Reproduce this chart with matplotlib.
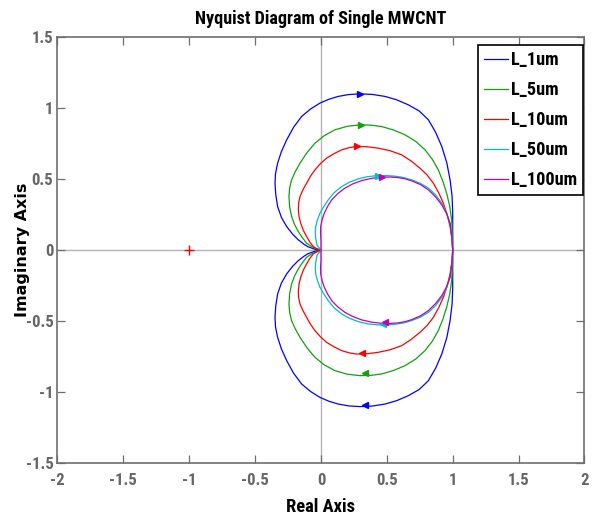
import matplotlib
matplotlib.use("Agg")
import matplotlib.pyplot as plt
from matplotlib import font_manager as fm
from matplotlib.font_manager import FontProperties
import numpy as np

# ---- choose the narrowest bold sans face that is installed ----
entries = fm.fontManager.ttflist
def pick_font():
    keys = ["LiberationSansNarrow-Bold.", "RobotoCondensed-Bold.", "Roboto_Condensed-Bold",
            "DejaVuSansCondensed-Bold."]
    for key in keys:
        for e in entries:
            if key in e.fname.replace(" ", ""):
                return FontProperties(fname=e.fname)
    return FontProperties(family="Liberation Sans", weight="bold")

BASEFP = pick_font()

# ---- data (upper half of each Nyquist contour) ----
labels = ["L_1um", "L_5um", "L_10um", "L_50um", "L_100um"]
colors = ["#0000ff", "#10a010", "#ff0000", "#00bfbf", "#bf00bf"]

blue_x = [1.0, 1.0, 1.0, 0.995, 0.98, 0.955, 0.917, 0.87, 0.815, 0.745, 0.663, 0.575, 0.486, 0.39, 0.296,
          0.21, 0.131, 0.06, -0.008, -0.08, -0.147, -0.208, -0.26, -0.3, -0.329, -0.345, -0.349, -0.343,
          -0.329, -0.3, -0.26, -0.215, -0.172, -0.13, -0.1, -0.05, 0.0]
blue_y = [0.0, 0.13, 0.26, 0.38, 0.495, 0.615, 0.73, 0.83, 0.918, 0.98, 1.023, 1.058, 1.082, 1.096, 1.10,
          1.095, 1.082, 1.062, 1.035, 0.993, 0.941, 0.865, 0.777, 0.695, 0.613, 0.54, 0.472, 0.39,
          0.307, 0.23, 0.166, 0.113, 0.073, 0.043, 0.025, 0.008, 0.0]

green_x = [1.0, 0.998, 0.992, 0.977, 0.954, 0.925, 0.891, 0.845, 0.79, 0.72, 0.638, 0.55, 0.461, 0.38, 0.296,
           0.2, 0.106, 0.025, -0.046, -0.105, -0.159, -0.195, -0.223, -0.238, -0.243, -0.238, -0.223, -0.2,
           -0.172, -0.14, -0.109, -0.06, 0.0]
green_y = [0.0, 0.11, 0.213, 0.31, 0.401, 0.485, 0.565, 0.64, 0.706, 0.765, 0.812, 0.846, 0.87, 0.88, 0.882,
           0.872, 0.847, 0.806, 0.753, 0.688, 0.613, 0.553, 0.495, 0.437, 0.378, 0.305, 0.237, 0.18,
           0.131, 0.087, 0.049, 0.02, 0.0]

red_x = [1.0, 0.993, 0.98, 0.958, 0.929, 0.893, 0.853, 0.805, 0.752, 0.685, 0.613, 0.525, 0.435, 0.35, 0.271,
         0.215, 0.157, 0.1, 0.043, -0.005, -0.046, -0.08, -0.109, -0.137, -0.159, -0.17, -0.172, -0.166,
         -0.154, -0.134, -0.109, -0.085, -0.058, -0.03, 0.0]
red_y = [0.0, 0.085, 0.166, 0.25, 0.331, 0.405, 0.472, 0.53, 0.577, 0.627, 0.671, 0.7, 0.718, 0.728, 0.73,
         0.722, 0.706, 0.68, 0.648, 0.608, 0.565, 0.52, 0.472, 0.425, 0.378, 0.33, 0.284, 0.235,
         0.19, 0.14, 0.096, 0.058, 0.025, 0.01, 0.0]

cyan_x = [1.0, 0.993, 0.98, 0.953, 0.917, 0.87, 0.815, 0.755, 0.689, 0.625, 0.562, 0.5, 0.435, 0.355, 0.283,
          0.215, 0.157, 0.1, 0.055, 0.02, -0.008, -0.028, -0.04, -0.043, -0.04, -0.03, 0.0]
cyan_y = [0.0, 0.095, 0.19, 0.265, 0.331, 0.39, 0.437, 0.47, 0.495, 0.512, 0.521, 0.525, 0.525, 0.518, 0.502,
          0.478, 0.448, 0.405, 0.354, 0.305, 0.26, 0.21, 0.166, 0.125, 0.085, 0.035, 0.0]

mag_x = [1.0, 0.993, 0.98, 0.953, 0.917, 0.87, 0.815, 0.755, 0.689, 0.64, 0.587, 0.525, 0.461, 0.385, 0.309,
         0.24, 0.182, 0.127, 0.081, 0.05, 0.025, 0.008, -0.002, -0.003, 0.0, 0.0, 0.0]
mag_y = [0.0, 0.095, 0.19, 0.258, 0.319, 0.375, 0.425, 0.462, 0.488, 0.502, 0.511, 0.515, 0.514, 0.506, 0.49,
         0.466, 0.437, 0.398, 0.354, 0.308, 0.26, 0.212, 0.166, 0.118, 0.07, 0.03, 0.0]

curves_x = [blue_x, green_x, red_x, cyan_x, mag_x]
curves_y = [blue_y, green_y, red_y, cyan_y, mag_y]

# direction arrows (upper half points right, lower half points left)
arrow_up_x = [0.296, 0.304, 0.271, 0.435, 0.461]
arrow_up_y = [1.10, 0.882, 0.73, 0.525, 0.514]
arrow_dn_x = [0.334, 0.334, 0.309, 0.473, 0.486]
arrow_dn_y = [-1.09, -0.866, -0.725, -0.521, -0.507]

xticks = [-2, -1.5, -1, -0.5, 0, 0.5, 1, 1.5, 2]
xticklabels = ["-2", "-1.5", "-1", "-0.5", "0", "0.5", "1", "1.5", "2"]
yticks = [-1.5, -1, -0.5, 0, 0.5, 1, 1.5]
yticklabels = ["-1.5", "-1", "-0.5", "0", "0.5", "1", "1.5"]

fig = plt.figure(figsize=(5.97, 5.21), dpi=100)
renderer = fig.canvas.get_renderer()

def fp(size):
    p = BASEFP.copy()
    p.set_size(size)
    return p

def fit_size(text, target_w_px, cap_px, wexp=0.35):
    t = fig.text(0, 0, text, fontproperties=fp(10))
    w = t.get_window_extent(renderer).width
    t.remove()
    size_w = 10.0 * target_w_px / w
    return float(size_w ** wexp * cap_px ** (1 - wexp))

TITLE_S = fit_size("Nyquist Diagram of Single MWCNT", 212, 14.3)
TICK_S = fit_size("1.5", 18, 13.5)
XLAB_S = fit_size("Real Axis", 56, 15)
LEG_S = fit_size("L_100um", 56, 16, wexp=0.55)

ax = fig.add_axes([0.0963, 0.1104, 0.8827, 0.8186])

ax.axhline(0, color="#b4b4b4", lw=1.0, zorder=1)
ax.axvline(0, color="#b4b4b4", lw=1.0, zorder=1)

for i in range(5):
    xs = np.array(curves_x[i])
    ys = np.array(curves_y[i])
    full_x = np.concatenate([xs, xs[::-1]])
    full_y = np.concatenate([ys, -ys[::-1]])
    ax.plot(full_x, full_y, color=colors[i], lw=0.9, label=labels[i], zorder=3)
    ax.plot(arrow_up_x[i], arrow_up_y[i], marker=">", color=colors[i], ms=4.5, zorder=4)
    ax.plot(arrow_dn_x[i], arrow_dn_y[i], marker="<", color=colors[i], ms=4.5, zorder=4)

ax.plot([-1], [0], marker="+", color="#ff0000", ms=7, mew=1.0, zorder=4)

ax.set_xlim(-2, 2)
ax.set_ylim(-1.5, 1.5)
ax.set_xticks(xticks)
ax.set_yticks(yticks)
ax.set_xticklabels(xticklabels, fontproperties=fp(TICK_S), color="#666666")
ax.set_yticklabels(yticklabels, fontproperties=fp(TICK_S), color="#666666")

ax.tick_params(direction="in", length=6, width=0.9, color="#6e6e6e", top=True, right=True)
ax.tick_params(axis="x", pad=7)
ax.tick_params(axis="y", pad=3)
for s in ax.spines.values():
    s.set_color("#6e6e6e")
    s.set_linewidth(1.2)

ax.set_title("Nyquist Diagram of Single MWCNT", fontproperties=fp(TITLE_S), pad=9, color="black")
ax.set_xlabel("Real Axis", fontproperties=fp(XLAB_S), va="center")
ax.xaxis.set_label_coords(0.5, -0.102)
ax.set_ylabel("Imaginary Axis", fontfamily="DejaVu Sans", fontweight="bold", fontsize=11.5, va="center")
ax.yaxis.set_label_coords(-0.067, 0.5)

em_px = LEG_S * 100 / 72.0

def make_legend(spacing):
    lg = ax.legend(loc="upper right", bbox_to_anchor=(0.998, 0.982), borderaxespad=0.0,
                   fancybox=False, framealpha=1, edgecolor="black", handlelength=24 / em_px,
                   handletextpad=3 / em_px, labelspacing=spacing, borderpad=0.35, prop=fp(LEG_S))
    lg.get_frame().set_linewidth(1.2)
    return lg

spacing = 0.9
leg = make_legend(spacing)
fig.canvas.draw()
ts = leg.get_texts()
y0 = ts[0].get_window_extent(renderer).y0
y1 = ts[1].get_window_extent(renderer).y0
pitch = abs(y0 - y1)
spacing = max(0.1, spacing + (30.0 - pitch) / em_px)
leg.remove()
leg = make_legend(spacing)

fig.savefig("out.png", dpi=100)
